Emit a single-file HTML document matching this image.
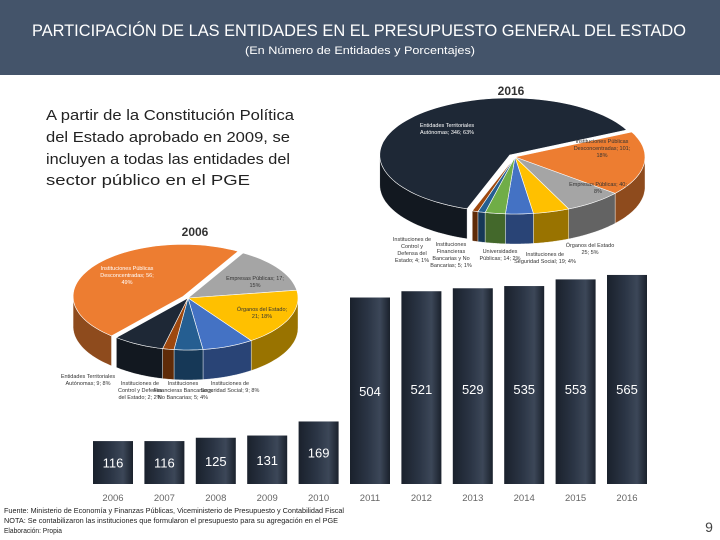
<!DOCTYPE html>
<html><head><meta charset="utf-8"><style>
html,body{margin:0;padding:0;background:#fff;}
svg{display:block;font-family:"Liberation Sans",sans-serif;}
</style></head><body>
<svg id="chart" width="720" height="540" viewBox="0 0 720 540" xmlns="http://www.w3.org/2000/svg">
<defs>
<linearGradient id="barg" x1="0" x2="1" y1="0" y2="0">
<stop offset="0" stop-color="#1a212c"/><stop offset="0.45" stop-color="#2b3545"/><stop offset="0.75" stop-color="#3c4758"/><stop offset="1" stop-color="#1a212c"/>
</linearGradient>
</defs>
<rect x="0" y="0" width="720" height="75" fill="#44546a"/>
<text x="359" y="36" text-anchor="middle" font-size="17" fill="#fff" textLength="654" lengthAdjust="spacingAndGlyphs">PARTICIPACIÓN DE LAS ENTIDADES EN EL PRESUPUESTO GENERAL DEL ESTADO</text>
<text x="360" y="54" text-anchor="middle" font-size="11" fill="#fff" textLength="230" lengthAdjust="spacingAndGlyphs">(En Número de Entidades y Porcentajes)</text>
<text x="511" y="95" text-anchor="middle" font-size="12" font-weight="bold" fill="#333">2016</text>
<text x="195" y="236" text-anchor="middle" font-size="12" font-weight="bold" fill="#333">2006</text>
<g font-size="14.5" fill="#222">
<text x="46" y="120" textLength="248" lengthAdjust="spacingAndGlyphs">A partir de la Constitución Política</text>
<text x="46" y="142" textLength="244" lengthAdjust="spacingAndGlyphs">del Estado aprobado en 2009, se</text>
<text x="46" y="164" textLength="244" lengthAdjust="spacingAndGlyphs">incluyen a todas las entidades del</text>
<text x="46" y="185" textLength="204" lengthAdjust="spacingAndGlyphs">sector público en el PGE</text>
</g>
<g id="pies"></g>
<g id="bars"></g>
<g font-size="7" fill="#222">
<text x="4" y="513" textLength="340" lengthAdjust="spacingAndGlyphs">Fuente: Ministerio de Economía y Finanzas Públicas, Viceministerio de Presupuesto y Contabilidad Fiscal</text>
<text x="4" y="523" textLength="334" lengthAdjust="spacingAndGlyphs">NOTA: Se contabilizaron las instituciones que formularon el presupuesto para su agregación en el PGE</text>
<text x="4" y="533" textLength="58" lengthAdjust="spacingAndGlyphs">Elaboración: Propia</text>
</g>
<text x="709" y="532" text-anchor="middle" font-size="14" fill="#444">9</text>
</svg>
<script>
const years = ["2006","2007","2008","2009","2010","2011","2012","2013","2014","2015","2016"];
const counts = [116,116,125,131,169,504,521,529,535,553,565];
const pie2016Labels = ["Instituciones Públicas Desconcentradas; 101; 18%","Empresas Públicas; 40; 8%","Órganos del Estado; 25; 5%","Instituciones de Seguridad Social; 19; 4%","Universidades Públicas; 14; 2%","Instituciones Financieras Bancarias y No Bancarias; 5; 1%","Instituciones de Control y Defensa del Estado; 4; 1%","Entidades Territoriales Autónomas; 346; 63%"];
const pie2016Values = [101,40,25,19,14,5,4,346];
const pie2006Labels = ["Empresas Públicas; 17; 15%","Órganos del Estado; 21; 18%","Instituciones de Seguridad Social; 9; 8%","Instituciones Financieras Bancarias y No Bancarias; 5; 4%","Instituciones de Control y Defensa del Estado; 2; 2%","Entidades Territoriales Autónomas; 9; 8%","Instituciones Públicas Desconcentradas; 56; 49%"];
const pie2006Values = [17,21,9,5,2,9,56];

const NS="http://www.w3.org/2000/svg";
function mk(tag,attrs,parent){const e=document.createElementNS(NS,tag);for(const k in attrs)e.setAttribute(k,attrs[k]);parent.appendChild(e);return e;}

const bars=document.getElementById('bars');
const base=484, scale=0.37, x0=113, step=51.4, bw=40;
const xPos=i=>x0+i*step;
const yH=v=>v*scale;
years.forEach((y,i)=>{
  const h=yH(counts[i]), cx=xPos(i);
  const r=mk('rect',{x:cx-bw/2,y:base-h,width:bw,height:h,fill:'url(#barg)'},bars);
  
  
  const t=mk('text',{x:cx,y:base-Math.min(h/2,95)+5,'text-anchor':'middle','font-size':13,fill:'#fff'},bars);
  t.textContent=counts[i];
  
  
  const l=mk('text',{x:cx,y:501,'text-anchor':'middle','font-size':9.5,fill:'#666'},bars);
  l.textContent=y;
  
  
});

function shade(hex,f){const n=parseInt(hex.slice(1),16);let r=n>>16,g=(n>>8)&255,b=n&255;return `rgb(${Math.round(r*f)},${Math.round(g*f)},${Math.round(b*f)})`;}
function drawPie(g,vals,labels,colors,cx,cy,rx,ry,depth,start,explode,name){
  const tot=vals.reduce((a,b)=>a+b,0);
  const P=(a,ox,oy,dy)=>[cx+ox+rx*Math.sin(a*Math.PI/180),cy+oy+dy-ry*Math.cos(a*Math.PI/180)];
  let a=start;const sl=[];
  vals.forEach((v,i)=>{const s=a,e=a+v/tot*360;a=e;const m=(s+e)/2;const ex=explode[i]||0;
    sl.push({s,e,ox:ex*Math.sin(m*Math.PI/180),oy:-ex*Math.cos(m*Math.PI/180)*ry/rx,i});});
  sl.forEach(o=>{
    const segs=[];
    for(let k=-360;k<=360;k+=360){const lo=Math.max(o.s,90+k),hi=Math.min(o.e,270+k);if(hi>lo)segs.push([lo,hi]);}
    segs.forEach(([lo,hi])=>{
      let d='';const n=30;
      for(let j=0;j<=n;j++){const p=P(lo+(hi-lo)*j/n,o.ox,o.oy,0);d+=(j?'L':'M')+p[0].toFixed(1)+' '+p[1].toFixed(1);}
      for(let j=n;j>=0;j--){const p=P(lo+(hi-lo)*j/n,o.ox,o.oy,depth);d+='L'+p[0].toFixed(1)+' '+p[1].toFixed(1);}
      const e=mk('path',{d:d+'Z',fill:shade(colors[o.i],0.6),stroke:'#fff','stroke-width':0.4},g);
      
      
    });
  });
  sl.forEach(o=>{
    let d='M'+(cx+o.ox)+' '+(cy+o.oy);const n=Math.max(4,Math.ceil((o.e-o.s)/3));
    for(let j=0;j<=n;j++){const p=P(o.s+(o.e-o.s)*j/n,o.ox,o.oy,0);d+='L'+p[0].toFixed(1)+' '+p[1].toFixed(1);}
    const e=mk('path',{d:d+'Z',fill:colors[o.i],stroke:'#fff','stroke-width':0.6},g);
    
    
    const t=mk('title',{},e);t.textContent=labels[o.i];
  });
}
const pies=document.getElementById('pies');
const g16=mk('g',{},pies);


drawPie(g16,pie2016Values,pie2016Labels,['#ed7d31','#a5a5a5','#ffc000','#4472c4','#70ad47','#255e91','#9e480e','#1e2836'],515,157,130,57,30,64,[0,0,0,0,0,0,0,7],'pie-2016');
const g06=mk('g',{},pies);


drawPie(g06,pie2006Values,pie2006Labels,['#a5a5a5','#ffc000','#4472c4','#255e91','#9e480e','#1e2836','#ed7d31'],188,298,110,52,30,30,[0,0,0,0,0,0,6],'pie-2006');

const labs=[
 [447,127,"Entidades Territoriales",'#fff'],[447,134,"Autónomas; 346; 63%",'#fff'],
 [602,143,"Instituciones Públicas",'#333'],[602,150,"Desconcentradas; 101;",'#333'],[602,157,"18%",'#333'],
 [598,186,"Empresas Públicas; 40;",'#333'],[598,193,"8%",'#333'],
 [590,247,"Órganos del Estado",'#333'],[590,254,"25; 5%",'#333'],
 [412,241,"Instituciones de",'#333'],[412,248,"Control y",'#333'],[412,255,"Defensa del",'#333'],[412,262,"Estado; 4; 1%",'#333'],
 [451,246,"Instituciones",'#333'],[451,253,"Financieras",'#333'],[451,260,"Bancarias y No",'#333'],[451,267,"Bancarias; 5; 1%",'#333'],
 [500,253,"Universidades",'#333'],[500,260,"Públicas; 14; 2%",'#333'],
 [545,256,"Instituciones de",'#333'],[545,263,"Seguridad Social; 19; 4%",'#333'],
 [127,270,"Instituciones Públicas",'#fff'],[127,277,"Desconcentradas; 56;",'#fff'],[127,284,"49%",'#fff'],
 [255,280,"Empresas Públicas; 17;",'#333'],[255,287,"15%",'#333'],
 [262,311,"Órganos del Estado;",'#333'],[262,318,"21; 18%",'#333'],
 [88,378,"Entidades Territoriales",'#333'],[88,385,"Autónomas; 9; 8%",'#333'],
 [140,385,"Instituciones de",'#333'],[140,392,"Control y Defensa",'#333'],[140,399,"del Estado; 2; 2%",'#333'],
 [183,385,"Instituciones",'#333'],[183,392,"Financieras Bancarias y",'#333'],[183,399,"No Bancarias; 5; 4%",'#333'],
 [230,385,"Instituciones de",'#333'],[230,392,"Seguridad Social; 9; 8%",'#333']
];
labs.forEach(([x,y,s,c])=>{const t=mk('text',{x,y,'text-anchor':'middle','font-size':5.5,fill:c},pies);t.textContent=s;
 
 });
</script>
</body></html>
